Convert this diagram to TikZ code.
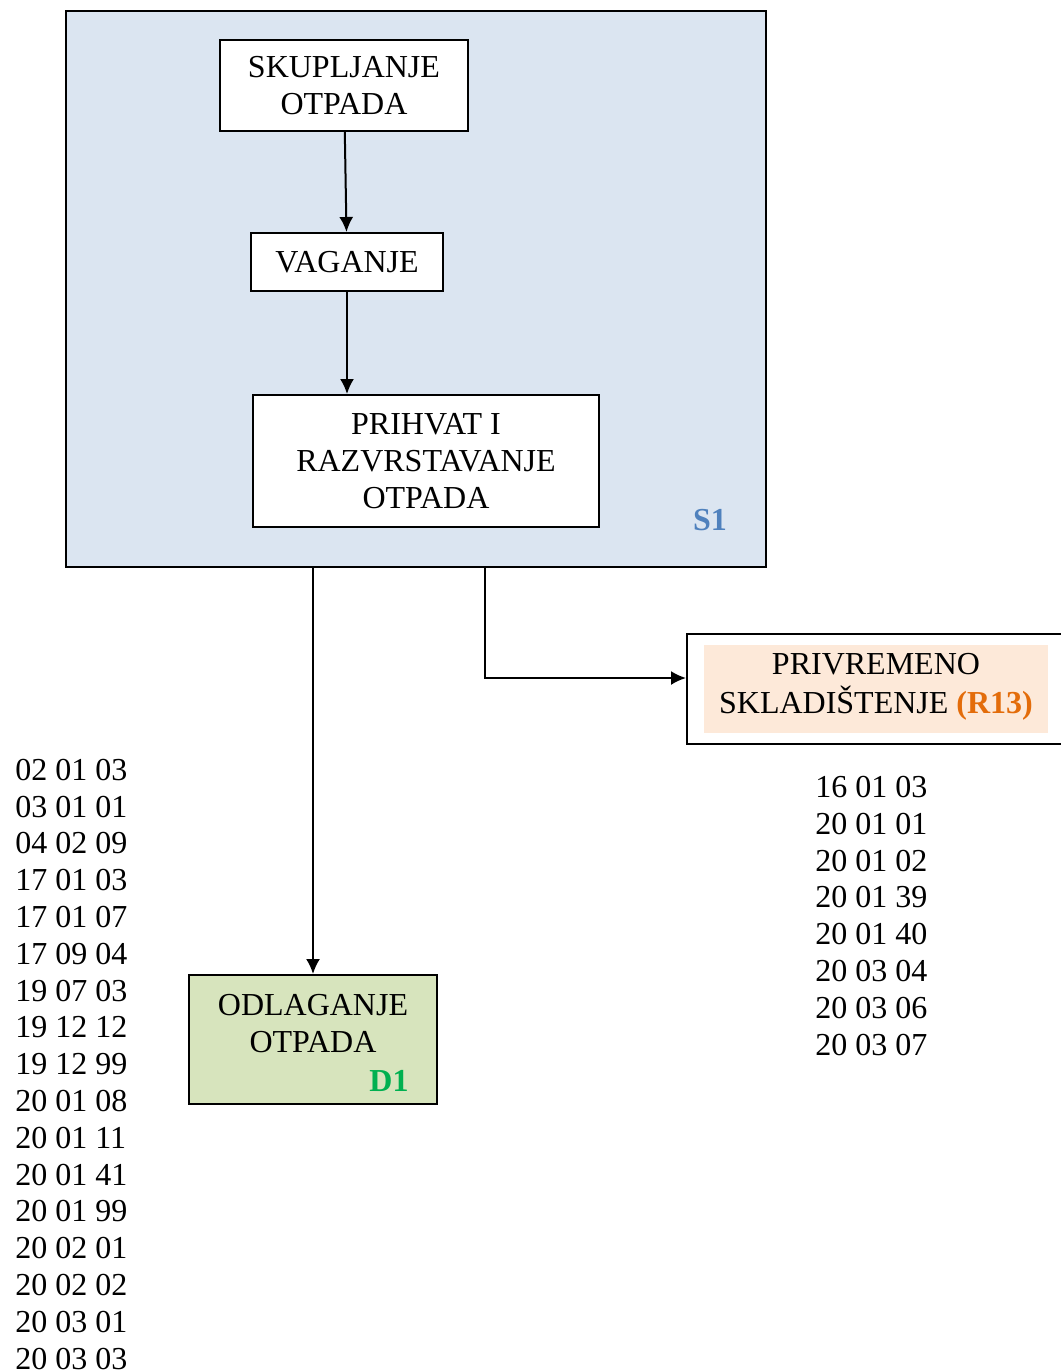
\documentclass[tikz,border=0pt]{standalone}
\usepackage{fontspec}
\setmainfont{Liberation Serif}
\usetikzlibrary{positioning}
\usetikzlibrary{calc}
\usetikzlibrary{arrows,arrows.meta}

\definecolor{sbg}{HTML}{DBE5F1}
\definecolor{sblue}{HTML}{4F81BD}
\definecolor{dbg}{HTML}{D7E4BD}
\definecolor{dgreen}{HTML}{00B050}
\definecolor{rbg}{HTML}{FDE9D9}
\definecolor{rorange}{HTML}{E36C0A}

\tikzset{
  box/.style={draw, line width=1pt, fill=white, align=center, font=\fontsize{16}{18.5}\selectfont, inner sep=0pt},
  arr/.style={-{Latex[length=7.5pt,width=7pt]}, line width=1pt},
  codes/.style={align=left, inner sep=0pt, font=\fontsize{16}{18.4}\selectfont},
  tag/.style={font=\fontsize{16}{18}\selectfont\bfseries, inner sep=0pt}
}

\begin{document}
\begin{tikzpicture}[x=0.5pt,y=-0.5pt]
\useasboundingbox (0,0) rectangle (1061,1372);

\node[box, fill=sbg, minimum width=350pt, minimum height=278pt] (s1) at (416,289) {};
\node[tag, text=sblue] (s1tag) at (710,520) {S1};

\node[box, minimum width=124pt, minimum height=45.5pt] (skup) at (344,85.5) {SKUPLJANJE\\OTPADA};
\node[box, minimum width=96pt, minimum height=29pt] (vag) at (347,262) {VAGANJE};
\node[box, minimum width=173pt, minimum height=66pt] (prih) at (426,461) {PRIHVAT I\\RAZVRSTAVANJE\\OTPADA};

\draw[arr] (skup) -- (vag);
\draw[arr] (vag.south) -- (vag.south |- prih.north);

% odlaganje
\node[box, fill=dbg, minimum width=124pt, minimum height=64.5pt] (odl) at (313,1039.5) {};
\node[box, draw=none, fill=none] (odltxt) at (313,1024) {ODLAGANJE\\OTPADA};
\node[tag, text=dgreen] (d1) at (389,1081) {D1};

% privremeno skladistenje
\node[box, minimum width=190pt, minimum height=55pt] (prv) at (877,689) {};
\node[box, draw=none, fill=rbg, minimum width=172pt, minimum height=44pt] (prvbg) at (876,689) {};
\node[box, draw=none, fill=none, font=\fontsize{16}{19.5}\selectfont] (prvtxt) at (876,687) {PRIVREMENO\\SKLADIŠTENJE \textbf{\color{rorange}(R13)}};

\coordinate (split) at ($(s1.south)+(69,0)$);
\draw[arr] (odl.north |- s1.south) -- (odl.north);
\draw[arr] (split) |- ($(prv.west)+(0,-11)$);

% kodovi otpada
\node[codes, anchor=base west] (leftcodes) at (15,1369) {02 01 03\\03 01 01\\04 02 09\\17 01 03\\17 01 07\\17 09 04\\19 07 03\\19 12 12\\19 12 99\\20 01 08\\20 01 11\\20 01 41\\20 01 99\\20 02 01\\20 02 02\\20 03 01\\20 03 03};
\node[codes, anchor=base west] (rightcodes) at (815,1055) {16 01 03\\20 01 01\\20 01 02\\20 01 39\\20 01 40\\20 03 04\\20 03 06\\20 03 07};

\end{tikzpicture}
\end{document}
